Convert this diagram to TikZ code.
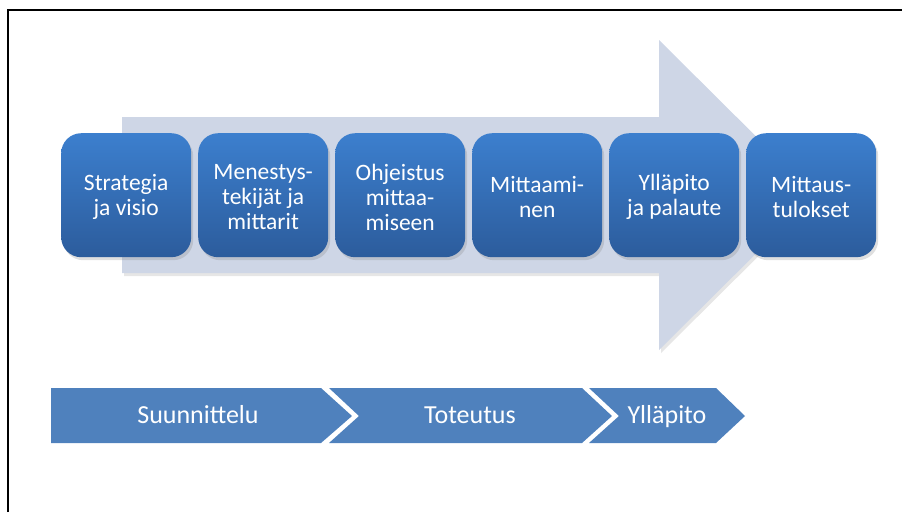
\documentclass[tikz,border=0pt]{standalone}
\usepackage{fontspec}
\setmainfont{Carlito}
\usetikzlibrary{shadows}
\definecolor{arrowfill}{RGB}{206,214,230}
\definecolor{boxtop}{RGB}{60,127,206}
\definecolor{boxbottom}{RGB}{44,92,156}
\definecolor{phasefill}{RGB}{79,129,189}
\tikzset{
  stepbox/.style={rounded corners=20pt, top color=boxtop, bottom color=boxbottom,
    draw=none, minimum width=130pt, minimum height=124pt, anchor=north west,
    text=white, align=center, inner sep=0pt,
    font=\fontsize{23}{25}\selectfont,
    drop shadow={shadow xshift=2pt, shadow yshift=-3pt, opacity=0.25}},
  steptext/.style={text=white, align=center, font=\fontsize{23.5}{25}\selectfont},
  phase/.style={fill=phasefill, draw=none},
  phasetext/.style={text=white, anchor=base, font=\fontsize{26}{28}\selectfont},
  bigarrow/.style={fill=arrowfill, draw=none,
    drop shadow={shadow xshift=2pt, shadow yshift=-3pt, opacity=0.2}},
}
\begin{document}
\begin{tikzpicture}[x=1pt,y=-1pt]
  \useasboundingbox (0,0) rectangle (902,512);
  % outer frame
  \draw[line width=2.4pt] (8,512) -- (8,10) -- (902,10);

  % large background arrow
  \path[bigarrow] (122,117) -- (659,117) -- (659,40) -- (815,195)
    -- (659,350) -- (659,273) -- (122,273) -- cycle;

  % process steps
  \node[stepbox] (s1) at (61,133) {};
  \node[stepbox] (s2) at (198,133) {};
  \node[stepbox] (s3) at (335,133) {};
  \node[stepbox] (s4) at (472,133) {};
  \node[stepbox] (s5) at (609,133) {};
  \node[stepbox] (s6) at (746,133) {};
  \node[steptext] (t1) at ([yshift=-2pt]s1.center) {Strategia\\ja visio};
  \node[steptext] (t2) at ([yshift=-2pt]s2.center) {Menestys-\\tekijät ja\\mittarit};
  \node[steptext] (t3) at ([yshift=-2pt]s3.center) {Ohjeistus\\mittaa-\\miseen};
  \node[steptext] (t4) at ([yshift=-2pt]s4.center) {Mittaami-\\nen};
  \node[steptext] (t5) at ([yshift=-2pt]s5.center) {Ylläpito\\ja palaute};
  \node[steptext] (t6) at ([yshift=-2pt]s6.center) {Mittaus-\\tulokset};

  % phase chevrons
  \path[phase] (51,388) -- (321,388) -- (352,416) -- (321,443) -- (51,443) -- cycle;
  \path[phase] (329,388) -- (582,388) -- (612,416) -- (582,443) -- (329,443)
    -- (359,416) -- cycle;
  \path[phase] (589,388) -- (716,388) -- (745,416) -- (716,443) -- (589,443)
    -- (619,416) -- cycle;
  \node[phasetext] (p1) at (198,423) {Suunnittelu};
  \node[phasetext] (p2) at (470,423) {Toteutus};
  \node[phasetext] (p3) at (667,423) {Ylläpito};
\end{tikzpicture}
\end{document}
